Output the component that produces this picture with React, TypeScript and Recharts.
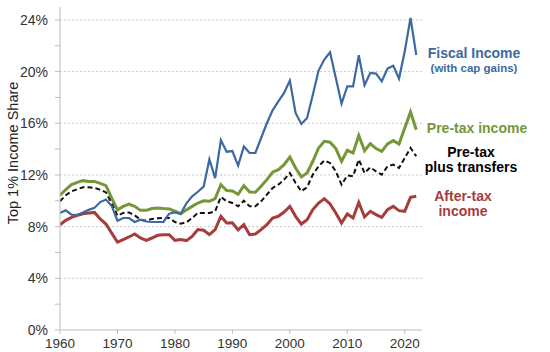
import React from "react";
import { LineChart, Line, XAxis, YAxis, CartesianGrid } from "recharts";

const years: number[] = Array.from({ length: 63 }, (_, i) => 1960 + i);

const fiscalIncome: number[] = [
  9.06, 9.26, 8.93, 8.9, 9.1, 9.3, 9.45, 9.9, 10.1, 9.6,
  8.46, 8.67, 8.67, 8.36, 8.54, 8.4, 8.36, 8.36, 8.36, 9.0,
  9.1, 9.0, 9.8, 10.35, 10.7, 11.1, 13.2, 11.75, 14.7, 13.8,
  13.85, 12.72, 14.2, 13.7, 13.7, 14.86, 16.0, 17.0, 17.7, 18.35,
  19.3, 16.8, 15.95, 16.41, 18.2, 20.08, 20.93, 21.5, 19.5, 17.52,
  18.86, 18.86, 21.26, 18.94, 19.9, 19.85, 19.25, 20.23, 20.46, 19.46,
  21.57, 24.15, 21.3,
];

const preTax: number[] = [
  10.43, 10.86, 11.25, 11.43, 11.56, 11.5, 11.5, 11.35, 11.17, 10.2,
  9.3, 9.57, 9.75, 9.57, 9.26, 9.26, 9.4, 9.45, 9.4, 9.37,
  9.19, 9.0, 9.3, 9.57, 9.83, 10.0, 9.96, 10.17, 11.25, 10.8,
  10.76, 10.5, 11.17, 10.68, 10.66, 11.12, 11.64, 12.21, 12.41, 12.8,
  13.39, 12.54, 11.85, 12.15, 13.06, 14.09, 14.6, 14.53, 14.04, 13.06,
  13.91, 13.7, 15.05, 13.88, 14.43, 14.04, 13.83, 14.4, 14.66, 14.4,
  15.64, 16.88, 15.5,
];

const preTaxTransfers: number[] = [
  9.96, 10.43, 10.73, 10.9, 11.05, 11.05, 11.0, 10.86, 10.65, 9.8,
  8.85, 9.06, 9.1, 8.88, 8.54, 8.46, 8.6, 8.65, 8.67, 8.67,
  8.36, 8.23, 8.33, 8.67, 9.06, 9.06, 9.06, 9.19, 10.3, 9.96,
  9.83, 9.57, 10.01, 9.57, 9.57, 9.96, 10.48, 10.99, 11.25, 11.64,
  12.15, 11.38, 10.74, 11.05, 12.03, 12.67, 13.11, 12.93, 12.28, 11.25,
  11.97, 11.9, 13.19, 12.15, 12.59, 12.28, 12.03, 12.67, 12.8, 12.54,
  13.32, 14.09, 13.45,
];

const afterTax: number[] = [
  8.15, 8.49, 8.72, 8.88, 9.0, 9.06, 9.1, 8.6, 8.2, 7.5,
  6.81, 7.0, 7.2, 7.43, 7.12, 6.94, 7.12, 7.33, 7.38, 7.38,
  6.94, 7.0, 6.92, 7.25, 7.77, 7.72, 7.38, 7.77, 8.8, 8.28,
  8.3, 7.75, 8.15, 7.38, 7.43, 7.77, 8.15, 8.67, 8.8, 9.13,
  9.57, 8.8, 8.2, 8.54, 9.32, 9.83, 10.17, 9.75, 9.06, 8.28,
  8.98, 8.67, 9.88, 8.75, 9.19, 8.93, 8.72, 9.32, 9.57, 9.24,
  9.19, 10.27, 10.35,
];

const xTicks: number[] = [1960, 1970, 1980, 1990, 2000, 2010, 2020];
const yTicks: number[] = [0, 2, 4, 6, 8, 10, 12, 14, 16, 18, 20, 22, 24];
const gridValues: number[] = [4, 8, 12, 16, 20, 24];

const data = years.map((year, i) => ({
  year,
  fiscal: fiscalIncome[i],
  pretax: preTax[i],
  transfers: preTaxTransfers[i],
  aftertax: afterTax[i],
}));

const BLUE = "#3c69a0";
const GREEN = "#76963a";
const RED = "#a63d3d";
const FONT = "'Liberation Sans', Arial, sans-serif";

export default function App() {
  return (
    <div style={{ position: "absolute", left: 0, top: 0, width: 550, height: 352, background: "#fff" }}>
      <LineChart
        width={550}
        height={352}
        data={data}
        margin={{ top: 7, right: 128, bottom: 0, left: 0 }}
      >
        <CartesianGrid
          vertical={false}
          horizontalValues={gridValues}
          stroke="#c8c8c8"
          strokeDasharray="2 2"
        />
        <XAxis
          dataKey="year"
          type="number"
          domain={[1960, 2023]}
          ticks={xTicks}
          height={22}
          tickSize={4}
          tickMargin={4}
          stroke="#bdbdbd"
          tick={{ fill: "#333", fontSize: 13.5, fontFamily: FONT }}
          interval={0}
          allowDataOverflow
        />
        <YAxis
          type="number"
          domain={[0, 25]}
          ticks={yTicks}
          width={60}
          tickSize={5}
          tickMargin={7}
          stroke="#bdbdbd"
          interval={0}
          tickFormatter={(v: number) => (v % 4 === 0 ? `${v}%` : "")}
          tick={{ fill: "#333", fontSize: 14, fontFamily: FONT }}
          allowDataOverflow
        />
        <Line type="linear" dataKey="aftertax" stroke={RED} strokeWidth={3} dot={false} isAnimationActive={false} />
        <Line type="linear" dataKey="pretax" stroke={GREEN} strokeWidth={3} dot={false} isAnimationActive={false} />
        <Line type="linear" dataKey="transfers" stroke="#111" strokeWidth={2} strokeDasharray="5 3" dot={false} isAnimationActive={false} />
        <Line type="linear" dataKey="fiscal" stroke={BLUE} strokeWidth={2.2} dot={false} isAnimationActive={false} />
      </LineChart>
      <svg
        width={550}
        height={352}
        style={{ position: "absolute", left: 0, top: 0, pointerEvents: "none" }}
        fontFamily={FONT}
      >
        <text x={13} y={153} transform="rotate(-90 13 153)" textAnchor="middle" dominantBaseline="central" fontSize={14.5} fill="#222">
          Top 1% Income Share
        </text>
        <text x={474} y={58} textAnchor="middle" fontSize={14} fontWeight="bold" fill={BLUE}>Fiscal Income</text>
        <text x={474} y={72} textAnchor="middle" fontSize={11.5} fontWeight="bold" fill={BLUE}>(with cap gains)</text>
        <text x={477} y={133} textAnchor="middle" fontSize={14} fontWeight="bold" fill={GREEN}>Pre-tax income</text>
        <text x={471} y={157} textAnchor="middle" fontSize={14} fontWeight="bold" fill="#000">Pre-tax</text>
        <text x={471} y={171.5} textAnchor="middle" fontSize={14} fontWeight="bold" fill="#000">plus transfers</text>
        <text x={463} y={201} textAnchor="middle" fontSize={14} fontWeight="bold" fill={RED}>After-tax</text>
        <text x={463} y={216} textAnchor="middle" fontSize={14} fontWeight="bold" fill={RED}>income</text>
      </svg>
    </div>
  );
}
